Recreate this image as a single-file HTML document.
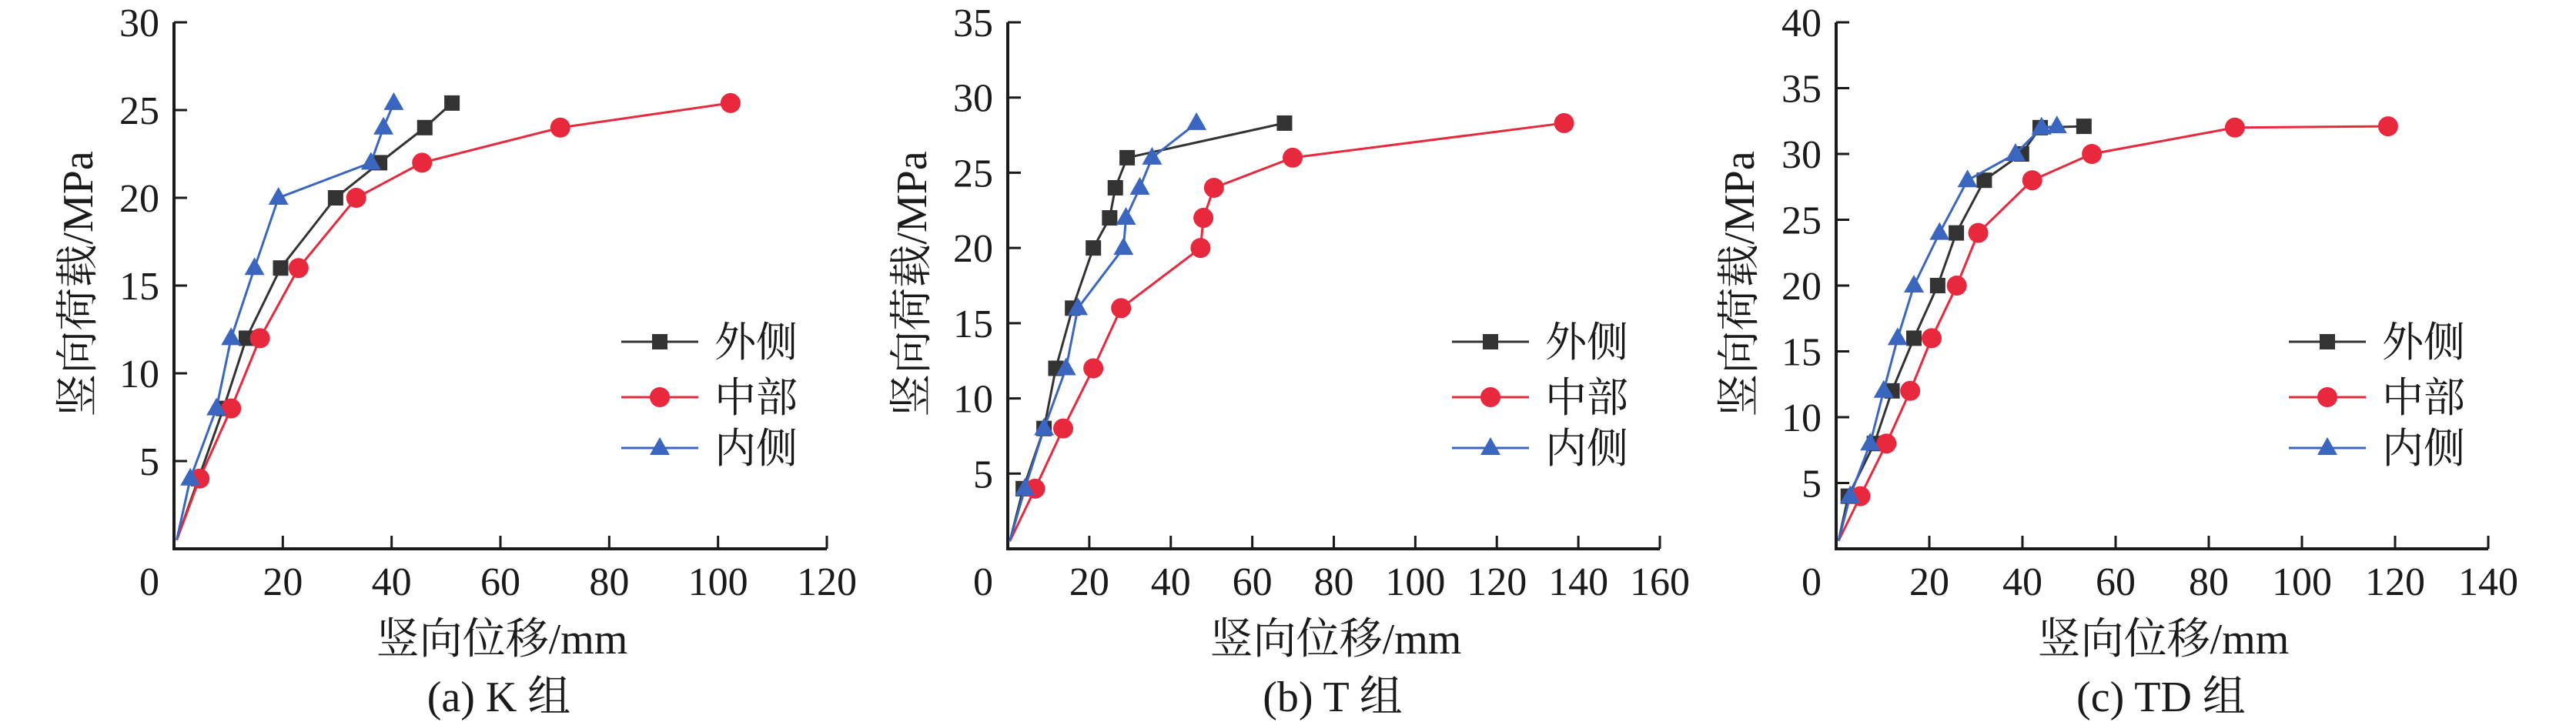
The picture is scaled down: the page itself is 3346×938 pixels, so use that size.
<!DOCTYPE html>
<html><head><meta charset="utf-8">
<style>
html,body{margin:0;padding:0;background:#fff;}
svg{display:block;}
text{font-family:"Liberation Serif","Noto Serif CJK SC","Noto Sans CJK SC",serif;fill:#1a1a1a;}
</style></head>
<body>
<svg id="chart" width="3346" height="938" viewBox="0 0 3346 938" xmlns="http://www.w3.org/2000/svg"></svg>
<script>
// ---------- data ----------
const seriesNames = ["外侧", "中部", "内侧"];
const captions = ["(a) K 组", "(b) T 组", "(c) TD 组"];
const xTicksA = [0, 20, 40, 60, 80, 100, 120];
const yTicksA = [5, 10, 15, 20, 25, 30];
const xTicksB = [0, 20, 40, 60, 80, 100, 120, 140, 160];
const yTicksB = [5, 10, 15, 20, 25, 30, 35];
const xTicksC = [0, 20, 40, 60, 80, 100, 120, 140];
const yTicksC = [5, 10, 15, 20, 25, 30, 35, 40];

const outerAx = [0.5, 4.5, 9.1, 13.3, 19.6, 29.7, 37.8, 46.1, 51.1];
const outerAy = [0.5, 4, 8, 12, 16, 20, 22, 24, 25.4];
const midAx = [0.5, 4.7, 10.5, 15.8, 22.9, 33.5, 45.6, 71, 102.3];
const midAy = [0.5, 4, 8, 12, 16, 20, 22, 24, 25.4];
const innerAx = [0.5, 3, 7.8, 10.5, 14.8, 19.2, 36.2, 38.5, 40.4];
const innerAy = [0.5, 4, 8, 12, 16, 20, 22, 24, 25.4];

const outerBx = [0.5, 3.8, 8.9, 11.8, 15.9, 21, 25, 26.4, 29.3, 67.9];
const outerBy = [0.5, 4, 8, 12, 16, 20, 22, 24, 26, 28.3];
const midBx = [0.5, 6.7, 13.6, 21, 27.8, 47.3, 48, 50.6, 69.9, 136.5];
const midBy = [0.5, 4, 8, 12, 16, 20, 22, 24, 26, 28.3];
const innerBx = [0.5, 4.2, 8.9, 14.3, 17.2, 28.4, 29, 32.4, 35.4, 46.3];
const innerBy = [0.5, 4, 8, 12, 16, 20, 22, 24, 26, 28.3];

const outerCx = [0.5, 2.6, 8.2, 12, 16.7, 21.8, 25.8, 31.8, 39.8, 43.8, 53.2];
const outerCy = [0.6, 4, 8, 12, 16, 20, 24, 28, 30, 32, 32.1];
const midCx = [0.5, 5.2, 10.8, 15.9, 20.5, 25.9, 30.5, 42.1, 54.9, 85.6, 118.5];
const midCy = [0.6, 4, 8, 12, 16, 20, 24, 28, 30, 32, 32.1];
const innerCx = [0.5, 3, 7.3, 10.2, 13.2, 16.7, 22.2, 28.2, 38.5, 44.1, 47.4];
const innerCy = [0.6, 4, 8, 12, 16, 20, 24, 28, 30, 32, 32.1];

// ---------- layout ----------
const NS = "http://www.w3.org/2000/svg";
const svg = document.getElementById("chart");
const colors = ["#333333", "#e8283c", "#3b66c0"];
const markers = ["square", "circle", "triangle"];
const panels = [
  {id:"a", x0:226, x1:1074, xmax:120, ymax:30, xt:xTicksA, yt:yTicksA, ytitleX:100, legX:807, capX:648, titleX:652,
   s:[[outerAx,outerAy],[midAx,midAy],[innerAx,innerAy]]},
  {id:"b", x0:1309, x1:2156, xmax:160, ymax:35, xt:xTicksB, yt:yTicksB, ytitleX:1183, legX:1886, capX:1731, titleX:1735,
   s:[[outerBx,outerBy],[midBx,midBy],[innerBx,innerBy]]},
  {id:"c", x0:2385, x1:3232, xmax:140, ymax:40, xt:xTicksC, yt:yTicksC, ytitleX:2258, legX:2973, capX:2807, titleX:2810,
   s:[[outerCx,outerCy],[midCx,midCy],[innerCx,innerCy]]}
];
const Y0 = 713, Y1 = 29;

function mk(tag, attrs, parent){
  const e = document.createElementNS(NS, tag);
  for (const k in attrs) e.setAttribute(k, attrs[k]);
  (parent||svg).appendChild(e);
  return e;
}
function marker(kind, cx, cy, color, g){
  let m;
  if (kind === "square") m = mk("rect", {x:cx-10, y:cy-10, width:20, height:20, fill:color}, g);
  else if (kind === "circle") m = mk("circle", {cx:cx, cy:cy, r:13, fill:color}, g);
  else m = mk("polygon", {points:`${cx},${cy-14} ${cx+13},${cy+9} ${cx-13},${cy+9}`, fill:color}, g);
  return m;
}

panels.forEach((p, pi) => {
  const xs = v => p.x0 + (p.x1 - p.x0) * v / p.xmax;
  const ys = v => Y0 - (Y0 - Y1) * v / p.ymax;
  const g = mk("g", {});
  
  

  // axes
  const ax = mk("path", {d:`M${p.x0},${Y1} V${Y0} H${p.x1}`, fill:"none", stroke:"#1a1a1a", "stroke-width":4}, g);
  
  

  // y ticks
  p.yt.forEach(v => {
    const y = ys(v);
    const t = mk("line", {x1:p.x0, x2:p.x0+17, y1:y, y2:y, stroke:"#1a1a1a", "stroke-width":3}, g);
    
    
    const l = mk("text", {x:p.x0-19, y:y+18, "text-anchor":"end", "font-size":52}, g);
    l.textContent = v;
    
    
  });
  // x ticks
  p.xt.forEach(v => {
    const x = xs(v);
    if (v > 0) {
      const t = mk("line", {x1:x, x2:x, y1:Y0, y2:Y0-17, stroke:"#1a1a1a", "stroke-width":3}, g);
      
      
    }
    const l = mk("text", {x: v === 0 ? p.x0-19 : x, y:773, "text-anchor": v === 0 ? "end" : "middle", "font-size":52}, g);
    l.textContent = v;
    
    
  });

  // titles
  const xt = mk("text", {x:p.titleX, y:849, "text-anchor":"middle", "font-size":56}, g);
  xt.textContent = "竖向位移/mm";
  
  
  const yt = mk("text", {x:0, y:0, "text-anchor":"middle", "font-size":56, transform:`translate(${p.ytitleX+20},369) rotate(-90)`}, g);
  yt.textContent = "竖向荷载/MPa";
  
  
  const cap = mk("text", {x:p.capX, y:924, "text-anchor":"middle", "font-size":56}, g);
  cap.textContent = captions[pi];
  
  

  // series
  p.s.forEach((ser, si) => {
    const [vx, vy] = ser;
    const sg = mk("g", {}, g);
    
    
    const pts = vx.map((v, i) => `${xs(v)},${ys(vy[i])}`).join(" ");
    const ln = mk("polyline", {points:pts, fill:"none", stroke:colors[si], "stroke-width":3}, sg);
    
    
    vx.forEach((v, i) => {
      if (i === 0) return;
      const m = marker(markers[si], xs(v), ys(vy[i]), colors[si], sg);
      
      
    });
  });

  // legend
  const legYs = [444, 516, 582];
  seriesNames.forEach((n, si) => {
    const lg = mk("g", {}, g);
    
    
    mk("line", {x1:p.legX, x2:p.legX+100, y1:legYs[si], y2:legYs[si], stroke:colors[si], "stroke-width":3}, lg);
    marker(markers[si], p.legX+50, legYs[si], colors[si], lg);
    const t = mk("text", {x:p.legX+121, y:legYs[si]+19, "font-size":54}, lg);
    t.textContent = n;
  });
});
</script>
</body></html>
